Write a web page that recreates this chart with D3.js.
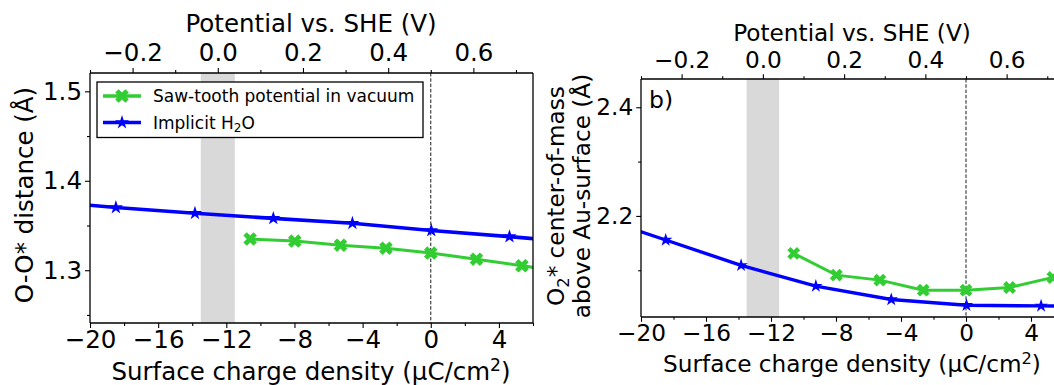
<!DOCTYPE html>
<html><head><meta charset="utf-8">
<script src="https://cdn.jsdelivr.net/npm/d3@7"></script>
<style>body{margin:0;background:#fff;overflow:hidden} text{font-family:"DejaVu Sans",sans-serif;fill:#000}</style>
</head><body><svg id="c" width="1054" height="385"></svg>
<script>
// ---- data ----
const xDomain = [-20, 6];
const xTicks = [-20, -16, -12, -8, -4, 0, 4];
const xMinor = [-18, -14, -10, -6, -2, 2, 6];
const potTicks = [-0.2, 0.0, 0.2, 0.4, 0.6];
const potMinor = [-0.3, -0.1, 0.1, 0.3, 0.5, 0.7];
const bandSigma = [-13.5, -11.5];
const sigmaBlue  = [-23.1, -18.48, -13.84, -9.24, -4.6, 0.03, 4.62, 9.2];
const sigmaGreen = [-10.6, -7.98, -5.3, -2.63, 0.0, 2.68, 5.35, 8.0];
const ooBlue   = [1.3775, 1.3702, 1.3637, 1.3580, 1.3526, 1.3445, 1.3376, 1.3300];
const ooGreen  = [1.3349, 1.3326, 1.3280, 1.3246, 1.3192, 1.3123, 1.3050, 1.2977];
const comBlue  = [2.2020, 2.1557, 2.1090, 2.0708, 2.0462, 2.0357, 2.0344, 2.0340];
const comGreen = [2.1311, 2.0911, 2.0819, 2.0634, 2.0634, 2.0684, 2.0868, 2.1100];
const yTicksA = [1.3, 1.4, 1.5];
const yMinorA = [1.25, 1.35, 1.45];
const yTicksB = [2.2, 2.4];
const yMinorB = [2.1, 2.3];

const svg = d3.select("#c");
const toPot = s => 0.5 + s / 25;
const fmt = v => (v < 0 ? "\u2212" : "") + Math.abs(v).toFixed(1);
const fmtI = v => (v < 0 ? "\u2212" : "") + Math.abs(v);
const BLUE = "#0000ff", GREEN = "#32cd32";

function drawMarker(g, cx, cy, sym, color, k) {
  if (sym === "star") {
    g.append("path").attr("d", d3.symbol(d3.symbolStar, 62 * k * k)()).attr("transform", `translate(${cx},${cy})`)
      .attr("fill", color);
  } else {
    g.append("path").attr("d", d3.symbol(d3.symbolCross, 115 * k * k)()).attr("transform", `translate(${cx},${cy}) rotate(45)`)
      .attr("fill", color);
  }
}

function panel(cfg) {
  const FS = cfg.fs, k = cfg.k;
  const g = svg.append("g");
  const x = d3.scaleLinear().domain(xDomain).range([cfg.left, cfg.right]);
  const xp = d3.scaleLinear().domain(xDomain.map(toPot)).range([cfg.left, cfg.right]);
  const y = d3.scaleLinear().domain(cfg.yDomain).range([cfg.bottom, cfg.top]);
  const cid = "clip" + cfg.id;
  svg.append("clipPath").attr("id", cid).append("rect")
    .attr("x", cfg.left).attr("y", cfg.top).attr("width", cfg.right - cfg.left).attr("height", cfg.bottom - cfg.top);
  const pg = g.append("g").attr("clip-path", `url(#${cid})`);
  pg.append("rect").attr("x", x(bandSigma[0])).attr("width", x(bandSigma[1]) - x(bandSigma[0]))
    .attr("y", cfg.top).attr("height", cfg.bottom - cfg.top).attr("fill", "#d9d9d9");
  pg.append("line").attr("x1", x(0)).attr("x2", x(0)).attr("y1", cfg.top).attr("y2", cfg.bottom)
    .attr("stroke", "#000").attr("stroke-width", 0.9).attr("stroke-dasharray", "3.5,1.8");
  const line = d3.line().x(d => x(d[0])).y(d => y(d[1]));
  const series = [
    {xs: sigmaGreen, ys: cfg.green, color: GREEN, sym: "x"},
    {xs: sigmaBlue, ys: cfg.blue, color: BLUE, sym: "star"}
  ];
  series.forEach(s => {
    const pts = s.xs.map((v, i) => [v, s.ys[i]]);
    pg.append("path").datum(pts).attr("d", line).attr("fill", "none")
      .attr("stroke", s.color).attr("stroke-width", (s.sym === "star" ? 3.6 : 3.1) * k);
    pts.forEach(p => drawMarker(pg, x(p[0]), y(p[1]), s.sym, s.color, k));
  });
  // spines
  const sp = g.append("g").attr("stroke", "#000").attr("stroke-width", 1.3);
  sp.append("line").attr("x1", cfg.left).attr("x2", cfg.right).attr("y1", cfg.bottom).attr("y2", cfg.bottom);
  sp.append("line").attr("x1", cfg.left).attr("x2", cfg.right).attr("y1", cfg.top).attr("y2", cfg.top);
  sp.append("line").attr("x1", cfg.left).attr("x2", cfg.left).attr("y1", cfg.top).attr("y2", cfg.bottom);
  sp.append("line").attr("x1", cfg.right).attr("x2", cfg.right).attr("y1", cfg.top).attr("y2", cfg.bottom);
  const T = 5 * k, t = 3 * k;
  const bx = g.append("g").attr("transform", `translate(0,${cfg.bottom})`)
    .call(d3.axisBottom(x).tickValues(xTicks).tickFormat(fmtI).tickSize(T).tickPadding(cfg.bPad));
  const bm = g.append("g").attr("transform", `translate(0,${cfg.bottom})`)
    .call(d3.axisBottom(x).tickValues(xMinor).tickFormat("").tickSize(t));
  const tx = g.append("g").attr("transform", `translate(0,${cfg.top})`)
    .call(d3.axisTop(xp).tickValues(potTicks).tickFormat(fmt).tickSize(T).tickPadding(cfg.tPad));
  const tm = g.append("g").attr("transform", `translate(0,${cfg.top})`)
    .call(d3.axisTop(xp).tickValues(potMinor).tickFormat("").tickSize(t));
  const ly = g.append("g").attr("transform", `translate(${cfg.left},0)`)
    .call(d3.axisLeft(y).tickValues(cfg.yTicks).tickFormat(v => v.toFixed(1)).tickSize(T).tickPadding(3));
  const lm = g.append("g").attr("transform", `translate(${cfg.left},0)`)
    .call(d3.axisLeft(y).tickValues(cfg.yMinor).tickFormat("").tickSize(t));
  [bx, bm, tx, tm, ly, lm].forEach(a => {
    a.select(".domain").remove();
    a.selectAll(".tick line").attr("stroke", "#000").attr("stroke-width", 1.1);
    a.selectAll("text").attr("font-size", FS).attr("font-family", "DejaVu Sans");
  });
  const xl = g.append("text").attr("x", cfg.xLabelX).attr("y", cfg.xLabelY).attr("text-anchor", "middle").attr("font-size", FS);
  xl.append("tspan").text("Surface charge density (\u03bcC/cm");
  xl.append("tspan").text("2").attr("font-size", FS * 0.7).attr("dy", -FS * 0.36);
  xl.append("tspan").text(")").attr("dy", FS * 0.36);
  g.append("text").attr("x", cfg.xLabelX).attr("y", cfg.titleY).attr("text-anchor", "middle").attr("font-size", FS)
    .text("Potential vs. SHE (V)");
  return {g, x, y};
}

// panel a
const FA = 24.5;
panel({id: "a", left: 90, right: 533, top: 73, bottom: 323, yDomain: [1.241, 1.5205], fs: FA, k: 1,
  green: ooGreen, blue: ooBlue, yTicks: yTicksA, yMinor: yMinorA, xLabelX: 311, xLabelY: 380, titleY: 32,
  bPad: 3, tPad: 7});
svg.append("text").attr("transform", "translate(33,195) rotate(-90)").attr("text-anchor", "middle")
  .attr("font-size", FA).text("O-O* distance (\u00c5)");

// legend
const lg = svg.append("g");
lg.append("rect").attr("x", 97).attr("y", 82).attr("width", 326).attr("height", 55.5)
  .attr("fill", "#fff").attr("stroke", "#000").attr("stroke-width", 1.3);
const legItems = [
  {label: "Saw-tooth potential in vacuum", color: GREEN, sym: "x", yy: 96},
  {label: "Implicit H", color: BLUE, sym: "star", yy: 122.5}
];
legItems.forEach((d, i) => {
  lg.append("line").attr("x1", 103).attr("x2", 141).attr("y1", d.yy).attr("y2", d.yy)
    .attr("stroke", d.color).attr("stroke-width", 3.3);
  drawMarker(lg, 122, d.yy, d.sym, d.color, 1);
  const t = lg.append("text").attr("x", 153).attr("y", d.yy + 6.3).attr("font-size", 17);
  t.append("tspan").text(d.label);
  if (i === 1) {
    t.append("tspan").text("2").attr("font-size", 12).attr("dy", 3.5);
    t.append("tspan").text("O").attr("dy", -3.5);
  }
});

// panel b
const FB = 23.2;
panel({id: "b", left: 641, right: 1063.5, top: 79, bottom: 317, yDomain: [2.014, 2.452], fs: FB, k: 0.95,
  green: comGreen, blue: comBlue, yTicks: yTicksB, yMinor: yMinorB, xLabelX: 852, xLabelY: 372, titleY: 41,
  bPad: 3, tPad: 6});
const yb = svg.append("text").attr("transform", "translate(564,196) rotate(-90)").attr("text-anchor", "middle").attr("font-size", FB);
yb.append("tspan").text("O");
yb.append("tspan").text("2").attr("font-size", FB * 0.7).attr("dy", 5);
yb.append("tspan").text("* center-of-mass").attr("dy", -5);
svg.append("text").attr("transform", "translate(590,196) rotate(-90)").attr("text-anchor", "middle").attr("font-size", FB)
  .text("above Au-surface (\u00c5)");
svg.append("text").attr("x", 649).attr("y", 108).attr("font-size", 23.5).text("b)");
</script></body></html>
